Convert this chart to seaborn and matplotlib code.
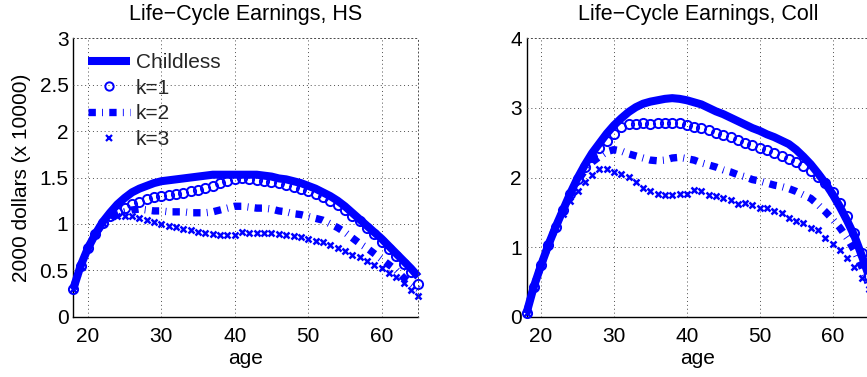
import numpy as np
import pandas as pd
import matplotlib
matplotlib.use("Agg")
import matplotlib.pyplot as plt
from matplotlib.lines import Line2D
import seaborn as sns

# ---- data: earnings by age (in units of 10,000 year-2000 dollars) ----
ages = list(range(18, 66))

hs_childless = [0.30, 0.55, 0.74, 0.89, 1.02, 1.12, 1.21, 1.28, 1.34, 1.38,
                1.41, 1.44, 1.46, 1.47, 1.48, 1.49, 1.50, 1.51, 1.52, 1.53,
                1.53, 1.53, 1.53, 1.53, 1.53, 1.53, 1.52, 1.51, 1.49, 1.48,
                1.46, 1.44, 1.41, 1.38, 1.34, 1.30, 1.25, 1.19, 1.12, 1.05,
                0.98, 0.91, 0.84, 0.76, 0.68, 0.60, 0.52, 0.43]
hs_k1 = [0.30, 0.55, 0.74, 0.89, 1.01, 1.08, 1.13, 1.17, 1.21, 1.24,
         1.27, 1.29, 1.30, 1.31, 1.32, 1.33, 1.35, 1.37, 1.39, 1.41,
         1.44, 1.46, 1.48, 1.49, 1.48, 1.47, 1.46, 1.45, 1.44, 1.42,
         1.40, 1.38, 1.35, 1.32, 1.29, 1.25, 1.20, 1.15, 1.09, 1.03,
         0.96, 0.89, 0.81, 0.73, 0.65, 0.57, 0.48, 0.35]
hs_k2 = [0.30, 0.55, 0.74, 0.89, 1.00, 1.06, 1.10, 1.13, 1.15, 1.16,
         1.15, 1.14, 1.14, 1.13, 1.13, 1.13, 1.12, 1.12, 1.12, 1.13,
         1.15, 1.17, 1.19, 1.19, 1.18, 1.17, 1.17, 1.16, 1.14, 1.13,
         1.11, 1.10, 1.08, 1.06, 1.04, 1.00, 0.96, 0.91, 0.85, 0.79,
         0.74, 0.68, 0.62, 0.56, 0.50, 0.42, 0.36, 0.30]
hs_k3 = [0.30, 0.55, 0.74, 0.89, 1.01, 1.08, 1.09, 1.09, 1.08, 1.06,
         1.04, 1.02, 1.00, 0.98, 0.97, 0.95, 0.93, 0.91, 0.90, 0.89,
         0.88, 0.88, 0.88, 0.91, 0.90, 0.90, 0.90, 0.90, 0.89, 0.88,
         0.87, 0.86, 0.84, 0.82, 0.80, 0.77, 0.74, 0.71, 0.67, 0.64,
         0.60, 0.56, 0.52, 0.47, 0.43, 0.36, 0.29, 0.22]

coll_childless = [0.05, 0.43, 0.74, 1.03, 1.29, 1.53, 1.77, 1.99, 2.18, 2.35,
                  2.49, 2.63, 2.75, 2.85, 2.94, 3.01, 3.06, 3.09, 3.11, 3.13,
                  3.14, 3.13, 3.11, 3.08, 3.05, 3.00, 2.95, 2.91, 2.86, 2.81,
                  2.76, 2.71, 2.67, 2.62, 2.58, 2.53, 2.48, 2.40, 2.30, 2.19,
                  2.06, 1.92, 1.76, 1.58, 1.38, 1.16, 0.88, 0.58]
coll_k1 = [0.05, 0.43, 0.74, 1.03, 1.29, 1.53, 1.77, 1.98, 2.15, 2.30,
           2.42, 2.53, 2.63, 2.72, 2.77, 2.77, 2.79, 2.77, 2.78, 2.79,
           2.79, 2.78, 2.76, 2.73, 2.71, 2.68, 2.64, 2.61, 2.58, 2.54,
           2.50, 2.46, 2.42, 2.39, 2.35, 2.31, 2.27, 2.22, 2.16, 2.09,
           2.01, 1.92, 1.79, 1.63, 1.44, 1.20, 0.91, 0.58]
coll_k2 = [0.05, 0.43, 0.74, 1.03, 1.29, 1.52, 1.75, 1.95, 2.10, 2.22,
           2.30, 2.37, 2.40, 2.38, 2.34, 2.31, 2.28, 2.25, 2.24, 2.25,
           2.28, 2.29, 2.27, 2.25, 2.21, 2.18, 2.15, 2.11, 2.08, 2.04,
           2.01, 1.97, 1.95, 1.92, 1.89, 1.87, 1.84, 1.80, 1.75, 1.70,
           1.61, 1.51, 1.40, 1.28, 1.13, 0.95, 0.72, 0.45]
coll_k3 = [0.05, 0.43, 0.74, 1.02, 1.27, 1.48, 1.66, 1.81, 1.94, 2.04,
           2.12, 2.12, 2.08, 2.05, 2.01, 1.93, 1.85, 1.81, 1.77, 1.75,
           1.75, 1.77, 1.77, 1.82, 1.80, 1.75, 1.73, 1.70, 1.67, 1.62,
           1.64, 1.60, 1.56, 1.56, 1.52, 1.49, 1.42, 1.37, 1.35, 1.28,
           1.24, 1.13, 1.05, 0.96, 0.84, 0.72, 0.55, 0.40]

series_labels = ["Childless", "k=1", "k=2", "k=3"]
titles = ["Life\u2212Cycle Earnings, HS", "Life\u2212Cycle Earnings, Coll"]
ylabel_text = "2000 dollars (x 10000)"
xlabel_text = "age"
yticks_hs = [0, 0.5, 1, 1.5, 2, 2.5, 3]
ytick_labels_hs = ["0", "0.5", "1", "1.5", "2", "2.5", "3"]
yticks_coll = [0, 1, 2, 3, 4]
ytick_labels_coll = ["0", "1", "2", "3", "4"]
xticks = [20, 30, 40, 50, 60]

# ---- style ----
sns.set_theme(style="white")
plt.rcParams["font.family"] = ["Liberation Sans", "DejaVu Sans"]
plt.rcParams["axes.unicode_minus"] = True
FS = 15
TITLE_FS = 15.5
BLUE = "#0000ff"

# dash-dot pattern in units of the line width: square dash, gap, thin dot, gap
DASHDOT = (0, (1.0, 0.85, 0.12, 0.85))

styles = [
    dict(linestyle="-", linewidth=5.8, marker=None, solid_capstyle="butt"),
    dict(linestyle="none", linewidth=0, marker="o", markersize=6.6,
         markerfacecolor="none", markeredgecolor=BLUE, markeredgewidth=1.4),
    dict(linestyle=DASHDOT, linewidth=5.3, marker=None, dash_capstyle="butt"),
    dict(linestyle="none", linewidth=0, marker="x", markersize=5.0,
         markeredgecolor=BLUE, markeredgewidth=1.8),
]

W, H = 867, 377
fig = plt.figure(figsize=(W / 100, H / 100), dpi=100)
ax_hs = fig.add_axes([73.3 / W, 60.3 / H, 345.0 / W, 278.4 / H])
ax_coll = fig.add_axes([526.5 / W, 60.3 / H, 342.5 / W, 278.4 / H])

panels = [
    (ax_hs, [hs_childless, hs_k1, hs_k2, hs_k3], (0, 3), yticks_hs, ytick_labels_hs),
    (ax_coll, [coll_childless, coll_k1, coll_k2, coll_k3], (0, 4), yticks_coll, ytick_labels_coll),
]

for i, (ax, values, ylim, yt, ytl) in enumerate(panels):
    df = pd.DataFrame({"age": ages})
    for lab, vals in zip(series_labels, values):
        df[lab] = vals
    for lab, st in zip(series_labels, styles):
        sns.lineplot(data=df, x="age", y=lab, ax=ax, color=BLUE,
                     legend=False, clip_on=False, **st)

    ax.set_xlim(18, 65)
    ax.set_ylim(*ylim)
    ax.set_xticks(xticks)
    ax.set_xticklabels([str(t) for t in xticks], fontsize=FS)
    ax.set_yticks(yt)
    ax.set_yticklabels(ytl, fontsize=FS)
    ax.tick_params(direction="in", length=3, width=0.8, color="black",
                   pad=3.5, labelcolor="black")
    ax.tick_params(axis="x", pad=7.5)
    ax.grid(True, linestyle=(0, (1, 3)), color="0.3", linewidth=0.7)
    for side in ["left", "bottom"]:
        ax.spines[side].set_color("black")
        ax.spines[side].set_linewidth(1.0)
        ax.spines[side].set_zorder(0.5)
    for side in ["top", "right"]:
        ax.spines[side].set_linestyle((0, (1, 3)))
        ax.spines[side].set_color("0.3")
        ax.spines[side].set_linewidth(0.7)
    ax.set_facecolor("white")
    ax.set_title(titles[i], fontsize=TITLE_FS, pad=13, color="black")
    ax.set_xlabel(xlabel_text, fontsize=FS, labelpad=2, color="black")
    ax.set_ylabel("")

ax_hs.set_ylabel(ylabel_text, fontsize=FS, labelpad=6, color="black")

# legend on the HS panel
handles = [
    Line2D([], [], color=BLUE, linestyle="-", linewidth=5.8, solid_capstyle="butt"),
    Line2D([], [], color=BLUE, linestyle="none", marker="o", markersize=6.0,
           markerfacecolor="none", markeredgecolor=BLUE, markeredgewidth=1.4),
    Line2D([], [], color=BLUE, linestyle=DASHDOT, linewidth=5.3, dash_capstyle="butt"),
    Line2D([], [], color=BLUE, linestyle="none", marker="x", markersize=4.0,
           markeredgecolor=BLUE, markeredgewidth=1.6),
]
ax_hs.legend(handles, series_labels, loc="upper left", frameon=False,
             fontsize=FS, handlelength=2.0, handletextpad=0.3,
             labelspacing=0.32, borderaxespad=0.35, borderpad=0.35)

fig.savefig("out.png", dpi=100, facecolor="white")
